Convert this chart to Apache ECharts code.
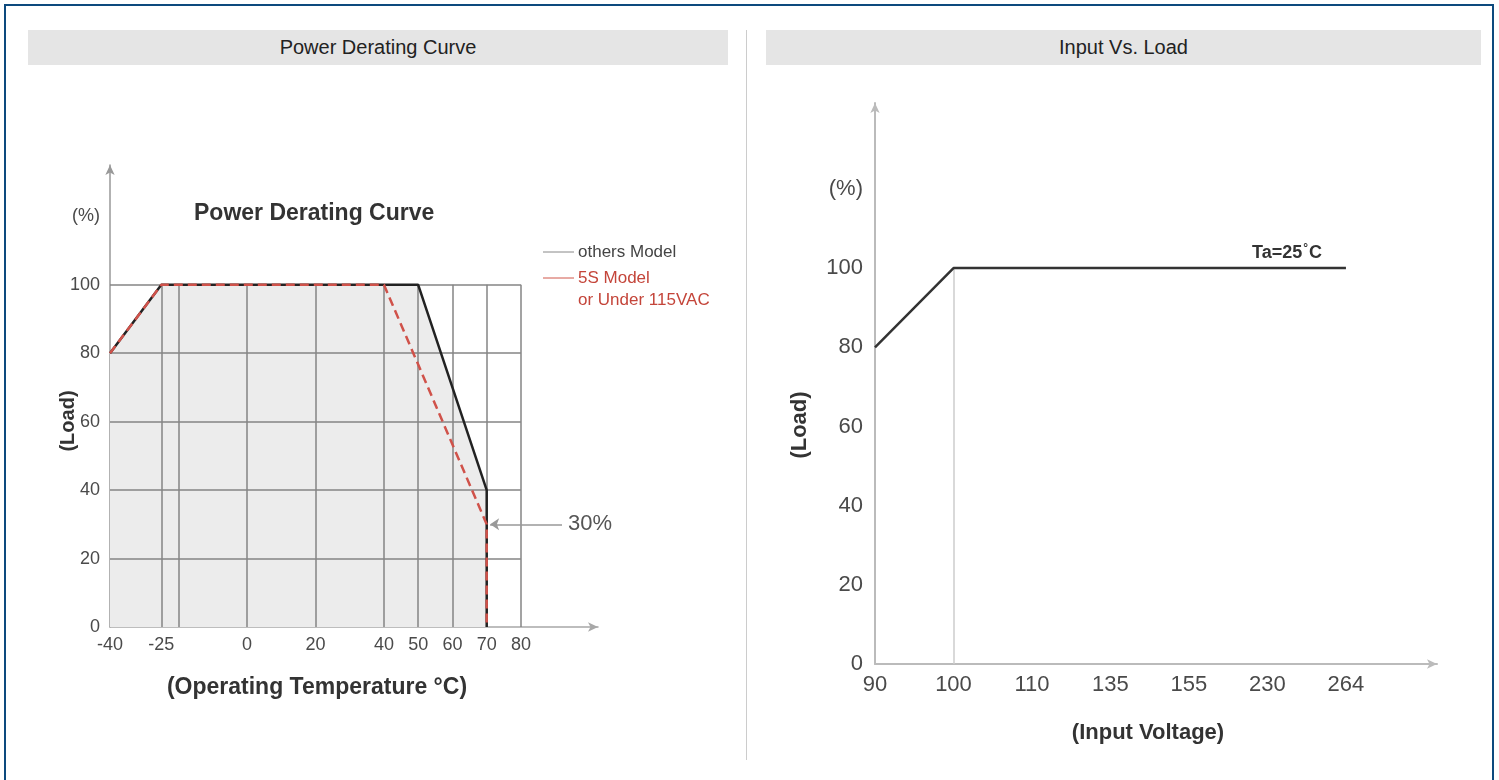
<!DOCTYPE html>
<html>
<head>
<meta charset="utf-8">
<script src="https://cdn.jsdelivr.net/npm/echarts@6/dist/echarts.min.js"></script>
<style>
  body { margin: 0; background: #fff; font-family: "Liberation Sans", Arial, sans-serif; }
  #frame { position: absolute; left: 4px; top: 4px; width: 1490px; height: 800px; border: 2px solid #0d4a7e; box-sizing: border-box; }
  .head { position: absolute; top: 30px; height: 35px; line-height: 35px; background: #e5e5e5; text-align: center; font-size: 20px; color: #222;
          font-family: "Liberation Sans Narrow", "Liberation Sans", Arial, sans-serif; }
  #divider { position: absolute; left: 746px; top: 30px; width: 1px; height: 730px; background: #ccc; }
  #chart { position: absolute; left: 0; top: 0; width: 1499px; height: 780px; }
</style>
</head>
<body>
<div id="frame"></div>
<div class="head" style="left:28px;width:700px">Power Derating Curve</div>
<div class="head" style="left:766px;width:715px">Input Vs. Load</div>
<div id="divider"></div>
<div id="chart"></div>

<script>
  // derating curve (left)
  const tempTicks = [-40, -25, 0, 20, 40, 50, 60, 70, 80];
  const tempGrid = [-25, -20, 0, 20, 40, 50, 60, 70, 80];
  const loadTicks = [0, 20, 40, 60, 80, 100];
  const othersTemp = [-40, -25, 50, 70, 70];
  const othersLoad = [80, 100, 100, 40, 0];
  const s5Temp = [-40, -25, 40, 70, 70];
  const s5Load = [80, 100, 100, 30, 0];

  // input vs load (right)
  const voltageTicks = ['90', '100', '110', '135', '155', '230', '264'];
  const inputVoltage = ['90', '100', '264'];
  const inputLoad = [80, 100, 100];

  const font = '"Liberation Sans", Arial, sans-serif';
  const othersData = othersTemp.map((t, i) => [t, othersLoad[i]]);
  const s5Data = s5Temp.map((t, i) => [t, s5Load[i]]);
  const inputData = inputVoltage.map((v, i) => [voltageTicks.indexOf(v), inputLoad[i]]);

  const gridLines = [];
  tempGrid.forEach(t => gridLines.push([{ coord: [t, 0] }, { coord: [t, 100] }]));
  loadTicks.slice(1).forEach(l => gridLines.push([{ coord: [-40, l] }, { coord: [80, l] }]));

  function yLabel(v) {
    if (v === 120) return '(%)';
    return loadTicks.includes(v) ? String(v) : '';
  }

  const chart = echarts.init(document.getElementById('chart'));

  const option = {
    animation: false,
    grid: [
      { left: 110, top: 165, width: 488, height: 462, outerBoundsMode: 'none' },
      { left: 875, top: 103, width: 562, height: 561, outerBoundsMode: 'none' }
    ],
    xAxis: [
      {
        gridIndex: 0, type: 'value', min: -40, max: 102.5, interval: 5,
        axisLine: { onZero: false, lineStyle: { color: '#a8a8a8', width: 1.5 }, symbol: ['none', 'arrow'], symbolSize: [7, 10] },
        axisTick: { show: false }, splitLine: { show: false },
        axisLabel: { margin: 9, fontSize: 18, color: '#4a4a4a', fontFamily: font,
          formatter: v => tempTicks.includes(v) ? String(v) : '' }
      },
      {
        gridIndex: 1, type: 'value', min: 0, max: 7.16, interval: 1,
        axisLine: { onZero: false, lineStyle: { color: '#bbb', width: 2 }, symbol: ['none', 'arrow'], symbolSize: [7, 10] },
        axisTick: { show: false }, splitLine: { show: false },
        axisLabel: { margin: 10, fontSize: 22, color: '#4a4a4a', fontFamily: font,
          formatter: v => voltageTicks[v] || '' }
      }
    ],
    yAxis: [
      {
        gridIndex: 0, type: 'value', min: 0, max: 135, interval: 20,
        axisLine: { show: true, onZero: false, lineStyle: { color: '#999', width: 1.5 }, symbol: ['none', 'arrow'], symbolSize: [7, 10] },
        axisTick: { show: false }, splitLine: { show: false },
        axisLabel: { margin: 10, fontSize: 18, color: '#4a4a4a', fontFamily: font, formatter: yLabel }
      },
      {
        gridIndex: 1, type: 'value', min: 0, max: 141.7, interval: 20,
        axisLine: { show: true, onZero: false, lineStyle: { color: '#bbb', width: 2 }, symbol: ['none', 'arrow'], symbolSize: [7, 10] },
        axisTick: { show: false }, splitLine: { show: false },
        axisLabel: { margin: 12, fontSize: 22, color: '#4a4a4a', fontFamily: font, formatter: yLabel }
      }
    ],
    series: [
      {
        // shaded operating area + grid
        type: 'line', xAxisIndex: 0, yAxisIndex: 0, data: othersData, z: 1,
        symbol: 'none', silent: true,
        lineStyle: { opacity: 0 },
        areaStyle: { color: '#ececec', opacity: 1 },
        markLine: {
          silent: true, z: 1.5, symbol: 'none', animation: false,
          label: { show: false },
          lineStyle: { color: '#858585', width: 1.5, type: 'solid' },
          data: gridLines
        }
      },
      {
        name: 'others Model', type: 'line', xAxisIndex: 0, yAxisIndex: 0, data: othersData, z: 3,
        symbol: 'none', lineStyle: { color: '#222', width: 2.5 }
      },
      {
        name: '5S Model', type: 'line', xAxisIndex: 0, yAxisIndex: 0, data: s5Data, z: 4,
        symbol: 'none', lineStyle: { color: '#d0524a', width: 2.5, type: [9, 5] },
        markLine: {
          silent: true, symbol: ['none', 'arrow'], symbolSize: 9, animation: false,
          lineStyle: { color: '#999', width: 1.5, type: 'solid' },
          label: { show: true, position: 'start', formatter: '30%', fontSize: 22, color: '#555', fontFamily: font, distance: 6 },
          data: [[{ coord: [92, 30] }, { coord: [71, 30] }]]
        }
      },
      {
        name: 'Input', type: 'line', xAxisIndex: 1, yAxisIndex: 1, data: inputData, z: 3,
        symbol: 'none', lineStyle: { color: '#333', width: 2.5 },
        markLine: {
          silent: true, z: 1, symbol: 'none', animation: false,
          label: { show: false },
          lineStyle: { color: '#ccc', width: 1.5, type: 'solid' },
          data: [[{ coord: [1, 0] }, { coord: [1, 100] }]]
        }
      }
    ],
    graphic: [
      { type: 'text', x: 194, y: 214, style: { text: 'Power Derating Curve', font: 'bold 23px ' + font, fill: '#333', verticalAlign: 'middle' } },
      { type: 'line', shape: { x1: 543, y1: 252, x2: 574, y2: 252 }, style: { stroke: '#888', lineWidth: 1 } },
      { type: 'text', x: 578, y: 252, style: { text: 'others Model', font: '17px ' + font, fill: '#444', verticalAlign: 'middle' } },
      { type: 'line', shape: { x1: 543, y1: 278, x2: 574, y2: 278 }, style: { stroke: '#d0564a', lineWidth: 1 } },
      { type: 'text', x: 578, y: 278, style: { text: '5S Model', font: '17px ' + font, fill: '#c4453a', verticalAlign: 'middle' } },
      { type: 'text', x: 578, y: 300, style: { text: 'or Under 115VAC', font: '17px ' + font, fill: '#c4453a', verticalAlign: 'middle' } },
      { type: 'text', x: 68, y: 421, rotation: Math.PI / 2, style: { text: '(Load)', font: 'bold 20px ' + font, fill: '#333', align: 'center', verticalAlign: 'middle' } },
      { type: 'text', x: 317, y: 688, style: { text: '(Operating Temperature °C)', font: 'bold 23px ' + font, fill: '#333', align: 'center', verticalAlign: 'middle' } },
      { type: 'text', x: 800, y: 425, rotation: Math.PI / 2, style: { text: '(Load)', font: 'bold 22px ' + font, fill: '#333', align: 'center', verticalAlign: 'middle' } },
      { type: 'text', x: 1148, y: 733, style: { text: '(Input Voltage)', font: 'bold 22px ' + font, fill: '#333', align: 'center', verticalAlign: 'middle' } },
      {
        type: 'text', x: 1252, y: 253,
        style: {
          text: '{a|Ta=25}{s|°}{a|C}', verticalAlign: 'middle',
          rich: {
            a: { font: 'bold 18px ' + font, fill: '#333' },
            s: { font: 'bold 12px ' + font, fill: '#333', verticalAlign: 'top', padding: [0, 1, 8, 1] }
          }
        }
      }
    ]
  };

  chart.setOption(option);
</script>
</body>
</html>
